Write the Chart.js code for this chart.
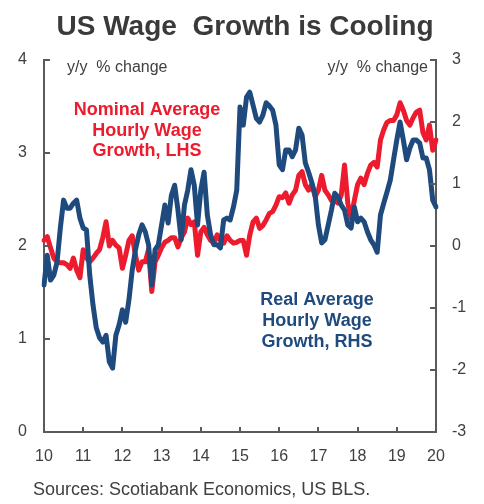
<!DOCTYPE html>
<html><head><meta charset="utf-8">
<script src="https://cdn.jsdelivr.net/npm/chart.js@4.4.0/dist/chart.umd.min.js"></script>
<style>html,body{margin:0;padding:0;background:#fff;}#wrap{width:484px;height:504px;position:relative;}</style>
</head><body><div id="wrap"><canvas id="c" width="484" height="504"></canvas></div>
<script>
// ---- data (monthly, Jan 2010 .. Jan 2020) ----
const startYear = 2010;
const xTickLabels = ['10','11','12','13','14','15','16','17','18','19','20'];
const leftTickValues = [0,1,2,3,4];
const rightTickValues = [-3,-2,-1,0,1,2,3];

const nominalAHE = [
2.06,2.10,1.98,1.87,1.83,1.82,1.82,1.80,1.76,1.87,1.74,1.66,
1.96,1.87,1.83,1.87,1.92,1.96,2.09,2.26,2.00,2.06,2.01,1.98,
1.76,1.90,2.06,2.11,1.90,1.74,1.83,1.83,1.96,1.51,1.83,1.90,
1.98,2.04,2.06,2.09,2.09,1.99,2.09,2.15,2.30,2.23,2.26,1.90,
2.15,2.20,2.12,2.06,2.03,2.12,2.06,2.03,2.11,2.06,2.03,2.04,
2.06,2.06,1.90,2.12,2.26,2.30,2.19,2.22,2.28,2.35,2.37,2.44,
2.53,2.52,2.57,2.46,2.55,2.60,2.76,2.80,2.66,2.60,2.66,2.53,
2.60,2.76,2.60,2.55,2.49,2.49,2.46,2.55,2.87,2.46,2.30,2.49,
2.66,2.73,2.66,2.78,2.87,2.90,2.85,3.14,3.25,3.33,3.35,3.35,
3.41,3.54,3.46,3.35,3.30,3.38,3.44,3.46,3.22,3.14,3.30,3.03,
3.14];

const realAHE = [
-0.63,-0.15,-0.55,-0.47,-0.26,0.29,0.74,0.61,0.61,0.69,0.74,0.45,
0.29,0.26,-0.47,-0.95,-1.32,-1.48,-1.55,-1.44,-1.87,-1.97,-1.44,-1.27,
-1.03,-1.23,-0.87,-0.39,-0.06,0.18,0.34,0.23,0.02,-0.63,-0.06,0.02,
0.34,0.66,0.37,0.82,0.98,0.58,0.10,0.66,0.90,1.23,0.98,0.34,
0.90,1.19,0.50,0.18,0.02,0.02,-0.03,0.42,0.45,0.42,0.63,0.90,
2.24,1.95,2.40,2.48,2.27,2.06,2.00,2.11,2.31,2.26,2.19,1.95,
1.31,1.23,1.55,1.55,1.44,1.55,1.90,1.79,1.34,1.19,1.02,0.82,
0.34,0.05,0.10,0.34,0.58,0.85,0.79,0.66,0.58,0.34,0.29,0.63,
0.39,0.45,0.39,0.23,0.10,0.02,-0.10,0.50,0.69,0.87,1.06,1.39,
1.71,2.00,1.71,1.39,1.58,1.71,1.71,1.66,1.42,1.42,1.23,0.74,
0.63];

// month category labels
const months = [];
for (let i = 0; i < nominalAHE.length; i++) {
  months.push((startYear + Math.floor(i/12)) + '-' + String(i%12+1).padStart(2,'0'));
}

const RED = '#ED1B2E';
const BLUE = '#1F4A7E';
const AXIS = '#5a5a5a';
const TEXT = '#404040';
const FONT = "'Liberation Sans', Arial, sans-serif";

const tickMarks = {
  id: 'tickMarks',
  afterDraw(chart) {
    const ctx = chart.ctx;
    const x = chart.scales.x, yl = chart.scales.yL, yr = chart.scales.yR;
    const a = chart.chartArea;
    ctx.save();
    ctx.strokeStyle = AXIS; ctx.lineWidth = 2;
    ctx.beginPath();
    for (let i = 0; i < months.length; i += 12) {
      const px = Math.round(x.getPixelForValue(i));
      ctx.moveTo(px, a.bottom); ctx.lineTo(px, a.bottom - 5);
    }
    leftTickValues.forEach(v => { const py = Math.round(yl.getPixelForValue(v)); ctx.moveTo(a.left, py); ctx.lineTo(a.left + 6, py); });
    rightTickValues.forEach(v => { const py = Math.round(yr.getPixelForValue(v)); ctx.moveTo(a.right, py); ctx.lineTo(a.right - 6, py); });
    ctx.stroke();

    // texts
    ctx.fillStyle = '#3a3a3a';
    ctx.textBaseline = 'alphabetic';
    ctx.font = 'bold 28px ' + FONT;
    ctx.textAlign = 'center';
    ctx.fillText('US Wage  Growth is Cooling', 245, 35);

    ctx.fillStyle = TEXT;
    ctx.font = '16px ' + FONT;
    ctx.textAlign = 'left';
    ctx.fillText('y/y  % change', 67, 72);
    ctx.textAlign = 'right';
    ctx.fillText('y/y  % change', 428, 72);

    ctx.font = '18px ' + FONT;
    ctx.textAlign = 'left';
    ctx.fillText('Sources: Scotiabank Economics, US BLS.', 33, 495);

    ctx.font = 'bold 18px ' + FONT;
    ctx.textAlign = 'center';
    ctx.fillStyle = RED;
    ['Nominal Average','Hourly Wage','Growth, LHS'].forEach((t,i) => ctx.fillText(t, 147, 115 + i*20.5));
    ctx.fillStyle = BLUE;
    ['Real Average','Hourly Wage','Growth, RHS'].forEach((t,i) => ctx.fillText(t, 317, 305 + i*21));
    ctx.restore();
  }
};

new Chart(document.getElementById('c'), {
  type: 'line',
  data: {
    labels: months,
    datasets: [
      { label: 'Real', data: realAHE, yAxisID: 'yR', borderColor: BLUE, borderWidth: 5, pointRadius: 0, tension: 0, borderJoinStyle: 'round', borderCapStyle: 'round', order: 0 },
      { label: 'Nominal', data: nominalAHE, yAxisID: 'yL', borderColor: RED, borderWidth: 5, pointRadius: 0, tension: 0, borderJoinStyle: 'round', borderCapStyle: 'round', order: 1 }
    ]
  },
  options: {
    responsive: false,
    animation: false,
    devicePixelRatio: 1,
    layout: { padding: { top: 60, bottom: 32, left: 0, right: 0 } },
    plugins: { legend: { display: false }, tooltip: { enabled: false }, title: { display: false } },
    scales: {
      x: {
        type: 'category', offset: false,
        grid: { display: false, drawTicks: false },
        border: { display: true, color: AXIS, width: 2 },
        ticks: { autoSkip: false, maxRotation: 0, padding: 15, color: TEXT, font: { family: FONT, size: 16 },
          callback: (v, i) => (i % 12 === 0 ? xTickLabels[i/12] : null) },
        afterFit: s => { s.height = 40; }
      },
      yL: {
        position: 'left', min: 0, max: 4,
        grid: { display: false, drawTicks: false },
        border: { display: true, color: AXIS, width: 2 },
        ticks: { stepSize: 1, padding: 17, color: TEXT, font: { family: FONT, size: 16 } },
        afterFit: s => { s.width = 44; }
      },
      yR: {
        position: 'right', min: -3, max: 3,
        grid: { display: false, drawTicks: false },
        border: { display: true, color: AXIS, width: 2 },
        ticks: { stepSize: 1, padding: 16, color: TEXT, font: { family: FONT, size: 16 } },
        afterFit: s => { s.width = 48; }
      }
    }
  },
  plugins: [tickMarks]
});
</script>
</body></html>
